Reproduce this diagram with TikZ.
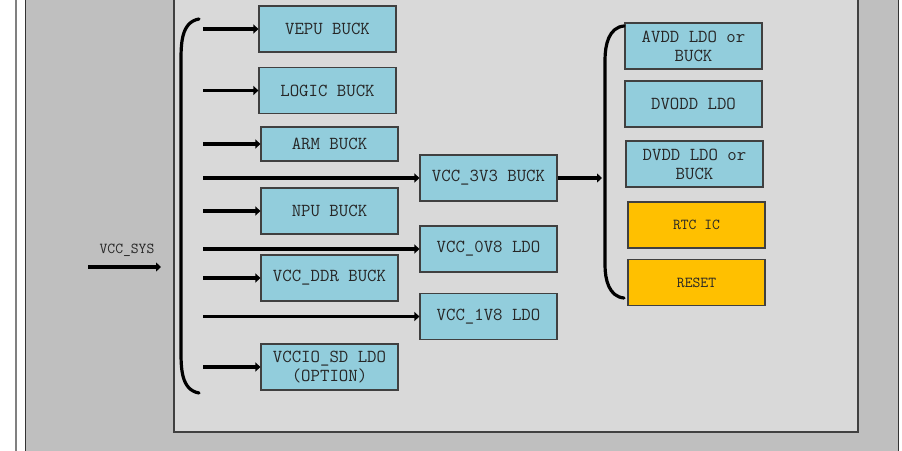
\documentclass[tikz,border=0pt]{standalone}
\usepackage{tikz}
\usetikzlibrary{arrows.meta}
\definecolor{box-blue}{HTML}{92CDDC}
\definecolor{box-orange}{HTML}{FFC000}
\definecolor{panel-grey}{HTML}{D9D9D9}
\definecolor{back-grey}{HTML}{BFBFBF}
\definecolor{edge-grey}{HTML}{404040}
\tikzset{
    power-box/.style = {draw=edge-grey, fill=box-blue, line width=1.2pt, rectangle, minimum width=137pt, minimum height=46pt, inner sep=2pt, align=center, text=black!85, font=\ttfamily\fontsize{18.3}{19}\selectfont},
    power-box-orange/.style = {power-box, fill=box-orange, font=\ttfamily\fontsize{15.2}{16}\selectfont},
    feed-arrow/.style = {line width=3.2pt, -{Triangle[length=5pt,width=9pt]}},
    feed-brace/.style = {line width=3.2pt, line cap=round},
}

\begin{document}
\begin{tikzpicture}[x=1pt, y=-1pt]
\useasboundingbox (0,0) rectangle (902,450);
\fill[white] (0,0) rectangle (902,450);
\draw[line width=2pt, draw=gray] (16,-5) -- (16,455);
\draw[fill=back-grey, draw=black!80, line width=1.5pt] (25.5,-5) rectangle (898.5,455);
\draw[fill=panel-grey, draw=edge-grey, line width=1.2pt] (174,-5) rectangle (858,432);

% first stage regulators
\node[power-box] (vepu) at (327.5,29) {VEPU BUCK};
\node[power-box] (logic) at (327.5,90.5) {LOGIC BUCK};
\node[power-box, minimum height=34pt] (arm) at (329.5,144) {ARM BUCK};
\node[power-box] (npu) at (329.5,211) {NPU BUCK};
\node[power-box] (ddr) at (329.5,278) {VCC\_DDR BUCK};
\node[power-box] (sd) at (329.5,367) {VCCIO\_SD LDO\\(OPTION)};
\node[power-box] (v3v3) at (488.5,178) {VCC\_3V3 BUCK};
\node[power-box] (v0v8) at (488.5,249) {VCC\_0V8 LDO};
\node[power-box] (v1v8) at (488.5,316.5) {VCC\_1V8 LDO};

% loads on the 3V3 rail
\node[power-box] (avdd) at (693.5,46) {AVDD LDO or\\BUCK};
\node[power-box] (dvodd) at (693.5,104) {DVODD LDO};
\node[power-box] (dvdd) at (694.5,164) {DVDD LDO or\\BUCK};
\node[power-box-orange] (rtc) at (696.5,225) {RTC IC};
\node[power-box-orange] (reset) at (696.5,282.5) {RESET};

% input
\node[text=black!85, font=\ttfamily\fontsize{15.2}{16}\selectfont] (vcc-sys) at (127,250) {VCC\_SYS};
\coordinate (sys-start) at (88,267);
\coordinate (sys-end) at (161,267);
\draw[feed-arrow] (sys-start) -- (sys-end);

% braces
\draw[feed-brace] (199,19) to[out=190,in=90] (181,62) -- (181,350) to[out=-90,in=170] (199,393);
\draw[feed-brace] (624,26) to[out=185,in=90] (605,60) -- (605,265) to[out=-90,in=175] (624,298);

\foreach \name/\y in {vepu/29, logic/90.5, arm/144, v3v3/178, npu/211, v0v8/249, ddr/278, v1v8/316.5, sd/367}{
    \coordinate (in-\name) at (203,\y);
    \draw[feed-arrow] (in-\name) -- (\name);
}
\coordinate (rail-3v3) at (602,178);
\draw[feed-arrow] (v3v3) -- (rail-3v3);
\end{tikzpicture}
\end{document}
